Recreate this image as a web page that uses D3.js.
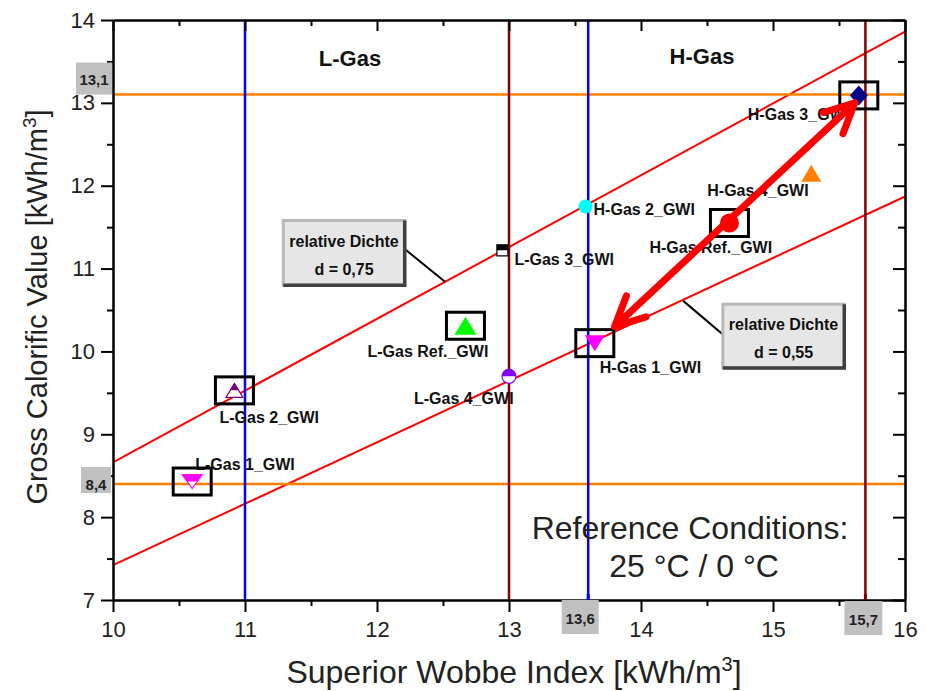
<!DOCTYPE html>
<html>
<head>
<meta charset="utf-8">
<script src="https://cdn.jsdelivr.net/npm/d3@7"></script>
<style>
  body { margin: 0; background: #fff; }
  svg text { font-family: "Liberation Sans", Arial, sans-serif; }
</style>
</head>
<body>
<div id="chart"></div>
<script>
// DATA
const pointNames = ['L-Gas 1_GWI', 'L-Gas 2_GWI', 'L-Gas 3_GWI', 'L-Gas 4_GWI', 'L-Gas Ref._GWI',
                    'H-Gas 1_GWI', 'H-Gas 2_GWI', 'H-Gas 3_GWI', 'H-Gas 4_GWI', 'H-Gas Ref._GWI'];
const wobbeValues = [10.60, 10.92, 12.95, 13.00, 12.67, 13.65, 13.58, 15.65, 15.29, 14.67];
const gcvValues = [8.43, 9.53, 11.22, 9.70, 10.31, 10.10, 11.75, 13.09, 12.15, 11.55];
const boxedPoints = ['L-Gas 1_GWI', 'L-Gas 2_GWI', 'L-Gas Ref._GWI', 'H-Gas 1_GWI', 'H-Gas 3_GWI', 'H-Gas Ref._GWI'];

const xTicks = [10, 11, 12, 13, 14, 15, 16];
const yTicks = [7, 8, 9, 10, 11, 12, 13, 14];
const xMinor = [10.5, 11.5, 12.5, 13.5, 14.5, 15.5];
const yMinor = [7.5, 8.5, 9.5, 10.5, 11.5, 12.5, 13.5];

const wobbeLimits = [11, 13, 13.6, 15.7];
const gcvLimits = [8.4, 13.1];

// relative density lines, GCV at Wobbe 10 and 16
const densityLabels = ['0,75', '0,55'];
const densityGcvAt10 = [8.66, 7.42];
const densityGcvAt16 = [13.86, 11.87];

const arrowFrom = [13.80, 10.30];
const arrowTo = [15.62, 13.00];

const groupTitles = ['L-Gas', 'H-Gas'];
const refText = ['Reference Conditions:', '25 °C / 0 °C'];

// STYLES
const markerStyle = {
  'L-Gas 1_GWI':    {shape: 'triDown', color: '#ff00ff', w: 20, h: 14, half: true},
  'L-Gas 2_GWI':    {shape: 'triUp', color: '#800080', w: 17, h: 14, half: true},
  'L-Gas 3_GWI':    {shape: 'square', color: '#000000', w: 11, h: 11, half: true},
  'L-Gas 4_GWI':    {shape: 'circle', color: '#7f00ff', w: 14, h: 14, half: true},
  'L-Gas Ref._GWI': {shape: 'triUp', color: '#00ff00', w: 22, h: 18},
  'H-Gas 1_GWI':    {shape: 'triDown', color: '#ff00ff', w: 20, h: 16},
  'H-Gas 2_GWI':    {shape: 'circle', color: '#00ffff', w: 14, h: 14},
  'H-Gas 3_GWI':    {shape: 'diamond', color: '#00008b', w: 18, h: 20},
  'H-Gas 4_GWI':    {shape: 'triUp', color: '#ff8000', w: 20, h: 17},
  'H-Gas Ref._GWI': {shape: 'circle', color: '#ff0000', w: 19, h: 19}
};
// label offset (text start, baseline) from the marker
const labelOffset = {
  'L-Gas 1_GWI': [3, -12], 'L-Gas 2_GWI': [-15, 33], 'L-Gas 3_GWI': [12, 15],
  'L-Gas 4_GWI': [-95, 28], 'L-Gas Ref._GWI': [-98, 31], 'H-Gas 1_GWI': [5, 30],
  'H-Gas 2_GWI': [8, 9], 'H-Gas 3_GWI': [-111, 25], 'H-Gas 4_GWI': [-104, 23],
  'H-Gas Ref._GWI': [-80, 30]
};

// CHART
const width = 927, height = 691;
const x = d3.scaleLinear().domain([10, 16]).range([113, 905]);
const y = d3.scaleLinear().domain([7, 14]).range([600, 20]);

const svg = d3.select('#chart').append('svg')
  .attr('width', width).attr('height', height);

svg.append('defs').append('clipPath').attr('id', 'topHalf')
  .append('rect').attr('x', -30).attr('y', -30).attr('width', 60).attr('height', 30);

// density lines
densityLabels.forEach(function(d, i) {
  svg.append('line')
    .attr('x1', x(10)).attr('y1', y(densityGcvAt10[i]))
    .attr('x2', x(16)).attr('y2', y(densityGcvAt16[i]))
    .style('stroke', '#ff0000').style('stroke-width', 2);
});

// reference lines
svg.selectAll('.hline').data(gcvLimits).enter().append('line')
  .attr('x1', x(10)).attr('x2', x(16))
  .attr('y1', d => y(d)).attr('y2', d => y(d))
  .style('stroke', '#ff8000').style('stroke-width', 2.5);

svg.selectAll('.vline').data(wobbeLimits).enter().append('line')
  .attr('x1', d => x(d)).attr('x2', d => x(d))
  .attr('y1', y(7)).attr('y2', y(14))
  .style('stroke', (d, i) => i % 2 === 0 ? '#0000ff' : '#800000')
  .style('stroke-width', 2.5);

// axes
function styleAxis(g) {
  g.selectAll('path').style('stroke', '#000').style('stroke-width', 2);
  g.selectAll('line').style('stroke', '#000').style('stroke-width', 2);
  g.selectAll('text').style('font-size', '22px').style('fill', '#222')
    .style('font-family', '"Liberation Sans", Arial, sans-serif');
}
const fmt = d3.format('d');
svg.append('g').attr('transform', 'translate(0,600)')
  .call(d3.axisBottom(x).tickValues(xTicks).tickSize(12).tickSizeOuter(0).tickPadding(9).tickFormat(fmt))
  .call(styleAxis);
svg.append('g').attr('transform', 'translate(0,600)')
  .call(d3.axisBottom(x).tickValues(xMinor).tickSize(6).tickSizeOuter(0).tickFormat(''))
  .call(styleAxis);
svg.append('g').attr('transform', 'translate(113,0)')
  .call(d3.axisLeft(y).tickValues(yTicks).tickSize(12).tickSizeOuter(0).tickPadding(6).tickFormat(fmt))
  .call(styleAxis);
svg.append('g').attr('transform', 'translate(113,0)')
  .call(d3.axisLeft(y).tickValues(yMinor).tickSize(6).tickSizeOuter(0).tickFormat(''))
  .call(styleAxis);
svg.append('g').attr('transform', 'translate(0,20)')
  .call(d3.axisTop(x).tickValues(xTicks).tickSize(-11).tickSizeOuter(0).tickFormat(''))
  .call(styleAxis);
svg.append('g').attr('transform', 'translate(0,20)')
  .call(d3.axisTop(x).tickValues(xMinor).tickSize(-6).tickSizeOuter(0).tickFormat(''))
  .call(styleAxis);
svg.append('g').attr('transform', 'translate(905,0)')
  .call(d3.axisRight(y).tickValues(yTicks).tickSize(-12).tickSizeOuter(0).tickFormat(''))
  .call(styleAxis);
svg.append('g').attr('transform', 'translate(905,0)')
  .call(d3.axisRight(y).tickValues(yMinor).tickSize(-7).tickSizeOuter(0).tickFormat(''))
  .call(styleAxis);

// small limit markers on the bottom axis
svg.selectAll('.limtick').data(wobbeLimits.slice(2)).enter().append('line')
  .attr('x1', d => x(d)).attr('x2', d => x(d))
  .attr('y1', 600).attr('y2', 594)
  .style('stroke', (d, i) => i === 0 ? '#0000ff' : '#800000').style('stroke-width', 3);

// grey value boxes
const commaFmt = v => String(v).replace('.', ',');
function valueBox(cx, top, w, h, label, baseline) {
  svg.append('rect').attr('x', cx - w / 2).attr('y', top).attr('width', w).attr('height', h)
    .style('fill', '#c0c0c0');
  svg.append('text').attr('x', cx).attr('y', baseline).attr('text-anchor', 'middle')
    .style('font-size', '15px').style('font-weight', 'bold').style('fill', '#222')
    .text(label);
}
valueBox(94, y(gcvLimits[1]) - 32, 36, 32, commaFmt(gcvLimits[1]), y(gcvLimits[1]) - 10);
valueBox(96, y(gcvLimits[0]) - 17, 30, 26, commaFmt(gcvLimits[0]), y(gcvLimits[0]) + 6);
valueBox(x(wobbeLimits[2]) - 8, 600, 37, 34, commaFmt(wobbeLimits[2]), 624);
valueBox(x(wobbeLimits[3]) - 2, 601, 38, 34, commaFmt(wobbeLimits[3]), 625);

// density callouts
function callout(x0, y0, x1, y1, d, lx1, ly1, lx2, ly2) {
  svg.append('line').attr('x1', lx1).attr('y1', ly1).attr('x2', lx2).attr('y2', ly2)
    .style('stroke', '#000').style('stroke-width', 2);
  const bx = x(x0), by = y(y0), bw = x(x1) - x(x0), bh = y(y1) - y(y0);
  svg.append('rect').attr('x', bx).attr('y', by).attr('width', bw).attr('height', bh)
    .style('fill', '#e6e6e6').style('stroke', '#b8b8b8').style('stroke-width', 3);
  svg.append('path')
    .attr('d', 'M' + (bx + bw) + ',' + by + 'L' + (bx + bw) + ',' + (by + bh) + 'L' + bx + ',' + (by + bh))
    .style('fill', 'none').style('stroke', '#404040').style('stroke-width', 3.5);
  svg.append('text').attr('x', bx + bw / 2).attr('y', by + 26).attr('text-anchor', 'middle')
    .style('font-size', '16px').style('font-weight', 'bold').style('fill', '#111')
    .text('relative Dichte');
  svg.append('text').attr('x', bx + bw / 2).attr('y', by + 54).attr('text-anchor', 'middle')
    .style('font-size', '16px').style('font-weight', 'bold').style('fill', '#111')
    .text('d = ' + d);
}
callout(11.29, 11.58, 12.21, 10.80, densityLabels[0], x(12.21), 249, x(12.515), y(10.84));
callout(14.62, 10.57, 15.54, 9.80, densityLabels[1], x(14.32), y(10.61), x(14.62) + 3, 337);

// group titles
svg.append('text').attr('x', 350).attr('y', 66).attr('text-anchor', 'middle')
  .style('font-size', '22px').style('font-weight', 'bold').style('fill', '#111').text(groupTitles[0]);
svg.append('text').attr('x', 702).attr('y', 64).attr('text-anchor', 'middle')
  .style('font-size', '22px').style('font-weight', 'bold').style('fill', '#111').text(groupTitles[1]);

// highlight boxes
const points = pointNames.map(function(n, i) {
  return {name: n, wobbe: wobbeValues[i], gcv: gcvValues[i]};
});
svg.selectAll('.hbox').data(points.filter(p => boxedPoints.indexOf(p.name) >= 0))
  .enter().append('rect')
  .attr('x', d => x(d.wobbe) - 19).attr('y', d => y(d.gcv) - 13.5)
  .attr('width', 38).attr('height', 27)
  .style('fill', 'none').style('stroke', '#000').style('stroke-width', 3);

// markers
function markerPath(s) {
  const w = s.w / 2, h = s.h / 2;
  if (s.shape === 'triUp') return 'M0,' + (-h) + 'L' + w + ',' + h + 'L' + (-w) + ',' + h + 'Z';
  if (s.shape === 'triDown') return 'M' + (-w) + ',' + (-h) + 'L' + w + ',' + (-h) + 'L0,' + h + 'Z';
  if (s.shape === 'diamond') return 'M0,' + (-h) + 'L' + w + ',0L0,' + h + 'L' + (-w) + ',0Z';
  if (s.shape === 'square') return 'M' + (-w) + ',' + (-h) + 'H' + w + 'V' + h + 'H' + (-w) + 'Z';
  return 'M' + (-w) + ',0A' + w + ',' + w + ' 0 1 0 ' + w + ',0A' + w + ',' + w + ' 0 1 0 ' + (-w) + ',0Z';
}
const marks = svg.selectAll('.mark').data(points).enter().append('g')
  .attr('transform', d => 'translate(' + x(d.wobbe) + ',' + y(d.gcv) + ')');
marks.each(function(d) {
  const s = markerStyle[d.name];
  const g = d3.select(this);
  if (s.half) {
    g.append('path').attr('d', markerPath(s))
      .style('fill', '#fff').style('stroke', s.color).style('stroke-width', 1.2);
    g.append('path').attr('d', markerPath(s)).attr('clip-path', 'url(#topHalf)')
      .style('fill', s.color);
  } else {
    g.append('path').attr('d', markerPath(s)).style('fill', s.color);
  }
});

// point labels
svg.selectAll('.plabel').data(points).enter().append('text')
  .attr('x', d => x(d.wobbe) + labelOffset[d.name][0])
  .attr('y', d => y(d.gcv) + labelOffset[d.name][1])
  .style('font-size', '16px').style('font-weight', 'bold').style('fill', '#111')
  .text(d => d.name);

// reference conditions
svg.append('text').attr('x', 690).attr('y', 539).attr('text-anchor', 'middle')
  .style('font-size', '32px').style('fill', '#222').text(refText[0]);
svg.append('text').attr('x', 694).attr('y', 577).attr('text-anchor', 'middle')
  .style('font-size', '32px').style('fill', '#222').text(refText[1]);

// double arrow
const ax1 = x(arrowFrom[0]), ay1 = y(arrowFrom[1]), ax2 = x(arrowTo[0]), ay2 = y(arrowTo[1]);
const ang = Math.atan2(ay2 - ay1, ax2 - ax1);
const barb = 33, spread = 26 * Math.PI / 180;
function head(tx, ty, a) {
  return 'M' + (tx + barb * Math.cos(a - spread)) + ',' + (ty + barb * Math.sin(a - spread)) +
    'L' + tx + ',' + ty +
    'L' + (tx + barb * Math.cos(a + spread)) + ',' + (ty + barb * Math.sin(a + spread));
}
svg.append('path')
  .attr('d', 'M' + ax1 + ',' + ay1 + 'L' + ax2 + ',' + ay2 + head(ax2, ay2, ang + Math.PI) + head(ax1, ay1, ang))
  .style('fill', 'none').style('stroke', '#ff0000').style('stroke-width', 7)
  .style('stroke-linecap', 'round').style('stroke-linejoin', 'round');

// axis titles
const xTitle = svg.append('text').attr('x', 514).attr('y', 683).attr('text-anchor', 'middle')
  .style('font-size', '32px').style('fill', '#222');
xTitle.append('tspan').text('Superior Wobbe Index [kWh/m');
xTitle.append('tspan').attr('dy', -12).style('font-size', '20px').text('3');
xTitle.append('tspan').attr('dy', 12).text(']');

const yTitle = svg.append('text').attr('transform', 'translate(47,307) rotate(-90)')
  .attr('text-anchor', 'middle').style('font-size', '29px').style('fill', '#222');
yTitle.append('tspan').text('Gross Calorific Value [kWh/m');
yTitle.append('tspan').attr('dy', -11).style('font-size', '19px').text('3');
yTitle.append('tspan').attr('dy', 11).text(']');
</script>
</body>
</html>
